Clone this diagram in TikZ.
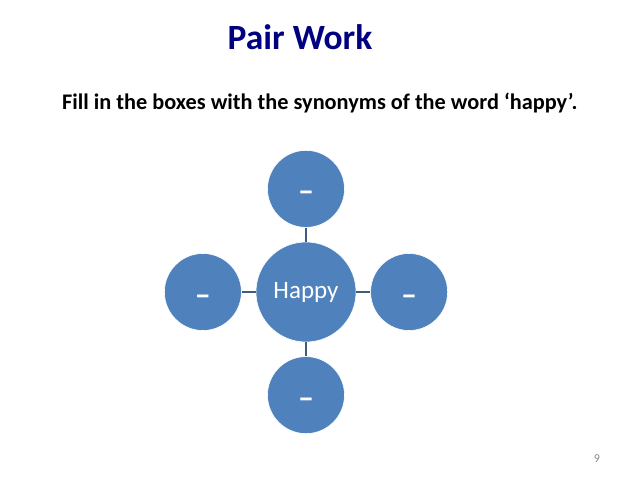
\documentclass[tikz,border=0pt]{standalone}
\usepackage{fontspec}
\setmainfont{Carlito}
\usepackage{xcolor}
\usepackage{tikz}
\usetikzlibrary{positioning}
\tikzset{
  hubnode/.style ={circle, fill=petalblue, draw=white, line width=0.6pt,
                   minimum size=#1, inner sep=0pt, text=white,
                   font=\fontsize{25}{30}\selectfont},
  hubnode/.default=100pt,
  petal/.style   ={hubnode=77pt, font=\bfseries\fontsize{32}{36}\selectfont,
                   text height=26pt, text depth=0pt},
  link/.style    ={draw=linkblue, line width=1.3pt},
  titletxt/.style={text=titlenavy, font=\bfseries\fontsize{35.5}{42}\selectfont,
                   inner sep=0pt, anchor=base},
  tasktxt/.style ={font=\bfseries\fontsize{22.3}{26}\selectfont,
                   inner sep=0pt, anchor=base west},
  pgnum/.style   ={text=pggray, font=\fontsize{12}{14}\selectfont,
                   inner sep=0pt, anchor=base},
}
\definecolor{petalblue}{RGB}{79,129,189}
\definecolor{linkblue} {RGB}{62,92,128}
\definecolor{titlenavy}{RGB}{0,0,128}
\definecolor{pggray}   {RGB}{137,137,137}

\begin{document}
\begin{tikzpicture}[x=1pt,y=-1pt]
  \useasboundingbox (0,0) rectangle (638,479);
  \node[titletxt] (title) at (300,49) {Pair Work};
  \node[tasktxt]  (task)  at (62,109) {Fill in the boxes with the synonyms of the word ‘happy’.};
  % centre and the four petals
  \node[hubnode] (happy) at (306,292) {Happy};
  \node[petal, above=14pt of happy] (ptop)   {–};
  \node[petal, below=14pt of happy] (pbot)   {–};
  \node[petal, left=14pt of happy]  (pleft)  {–};
  \node[petal, right=14pt of happy] (pright) {–};
  \draw[link](happy)--(ptop);
  \draw[link](happy)--(pbot);
  \draw[link](happy)--(pleft);
  \draw[link](happy)--(pright);
  \node[pgnum] (pg) at (597,462) {9};
\end{tikzpicture}
\end{document}
